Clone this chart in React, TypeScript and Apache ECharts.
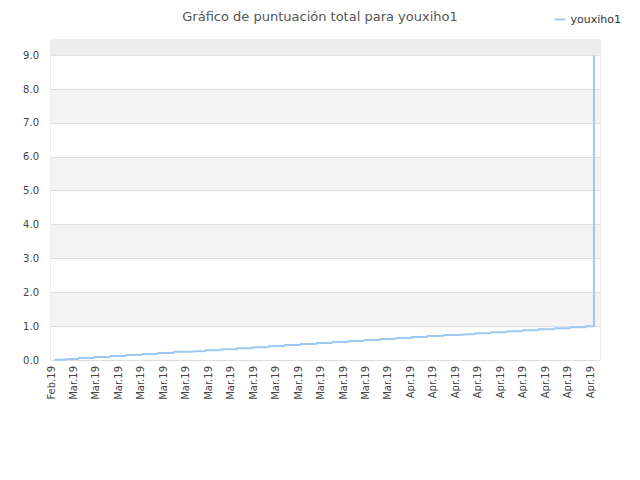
import React, { useEffect, useRef } from 'react';
import * as echarts from 'echarts';

const titleText = 'Gráfico de puntuación total para youxiho1';
const seriesName = 'youxiho1';

// tick labels of the visible x axis
const xLabels = [
    'Feb.19',
    'Mar.19', 'Mar.19', 'Mar.19', 'Mar.19', 'Mar.19', 'Mar.19', 'Mar.19', 'Mar.19',
    'Mar.19', 'Mar.19', 'Mar.19', 'Mar.19', 'Mar.19', 'Mar.19', 'Mar.19',
    'Apr.19', 'Apr.19', 'Apr.19', 'Apr.19', 'Apr.19', 'Apr.19', 'Apr.19', 'Apr.19', 'Apr.19'
];

// cumulative score per step
const scoreSteps = [
    0.01, 0.03, 0.06, 0.09, 0.12, 0.15, 0.18, 0.21, 0.24, 0.26,
    0.29, 0.32, 0.35, 0.38, 0.41, 0.44, 0.47, 0.50, 0.53, 0.56,
    0.59, 0.62, 0.65, 0.68, 0.71, 0.74, 0.76, 0.79, 0.82, 0.85,
    0.88, 0.91, 0.94, 0.97, 1.0
];
const finalScore = 9.0;

const App: React.FC = () => {
    const chartRef = useRef<HTMLDivElement>(null);

    useEffect(() => {
        if (!chartRef.current) return;
        const chart = echarts.init(chartRef.current, null, { renderer: 'svg' });

        const lineData = scoreSteps.map((v, i) => [i, v]);
        lineData.push([scoreSteps.length - 1, finalScore]);

        chart.setOption({
            animation: false,
            textStyle: { fontFamily: 'DejaVu Sans' },
            title: {
                text: titleText,
                left: 'center',
                top: 5,
                textStyle: { fontSize: 13, fontWeight: 'normal', color: '#555' }
            },
            legend: {
                data: [seriesName],
                right: 14,
                top: 9,
                icon: 'rect',
                itemWidth: 11,
                itemHeight: 2,
                itemGap: 8,
                textStyle: { fontSize: 11, color: '#333' }
            },
            grid: {
                left: 51,
                right: 40,
                top: 40,
                bottom: 120,
                show: true,
                borderColor: '#dadada',
                borderWidth: 1
            },
            xAxis: [
                {
                    type: 'value',
                    min: 0,
                    max: 24.44,
                    interval: 1,
                    axisLine: { show: false },
                    axisTick: { show: false },
                    splitLine: { show: false },
                    axisLabel: {
                        rotate: 90,
                        margin: 6,
                        fontSize: 10,
                        color: '#444',
                        showMaxLabel: false,
                        formatter: (v: number) => xLabels[v] ?? ''
                    }
                },
                {
                    type: 'value',
                    show: false,
                    min: -0.22,
                    max: 34.38
                }
            ],
            yAxis: {
                type: 'value',
                min: 0,
                max: 9.45,
                interval: 1,
                axisLine: { show: false },
                axisTick: { show: false },
                axisLabel: {
                    fontSize: 10,
                    color: '#444',
                    margin: 12,
                    showMaxLabel: false,
                    formatter: (v: number) => v.toFixed(1)
                },
                splitLine: { lineStyle: { color: '#dedede' } },
                splitArea: { show: true, areaStyle: { color: ['#ffffff', '#f3f3f3'] } }
            },
            series: [
                {
                    name: seriesName,
                    type: 'line',
                    xAxisIndex: 1,
                    step: 'middle',
                    showSymbol: false,
                    color: '#9cc9f3',
                    lineStyle: { width: 2, color: '#9cc9f3' },
                    data: lineData,
                    markArea: {
                        silent: true,
                        itemStyle: { color: '#ededed' },
                        data: [[{ yAxis: 9 }, { yAxis: 9.45 }]]
                    }
                }
            ]
        });

        return () => {
            chart.dispose();
        };
    }, []);

    return (
        <div
            ref={chartRef}
            style={{ position: 'fixed', left: 0, top: 0, width: 640, height: 480, background: '#fff' }}
        />
    );
};

export default App;
